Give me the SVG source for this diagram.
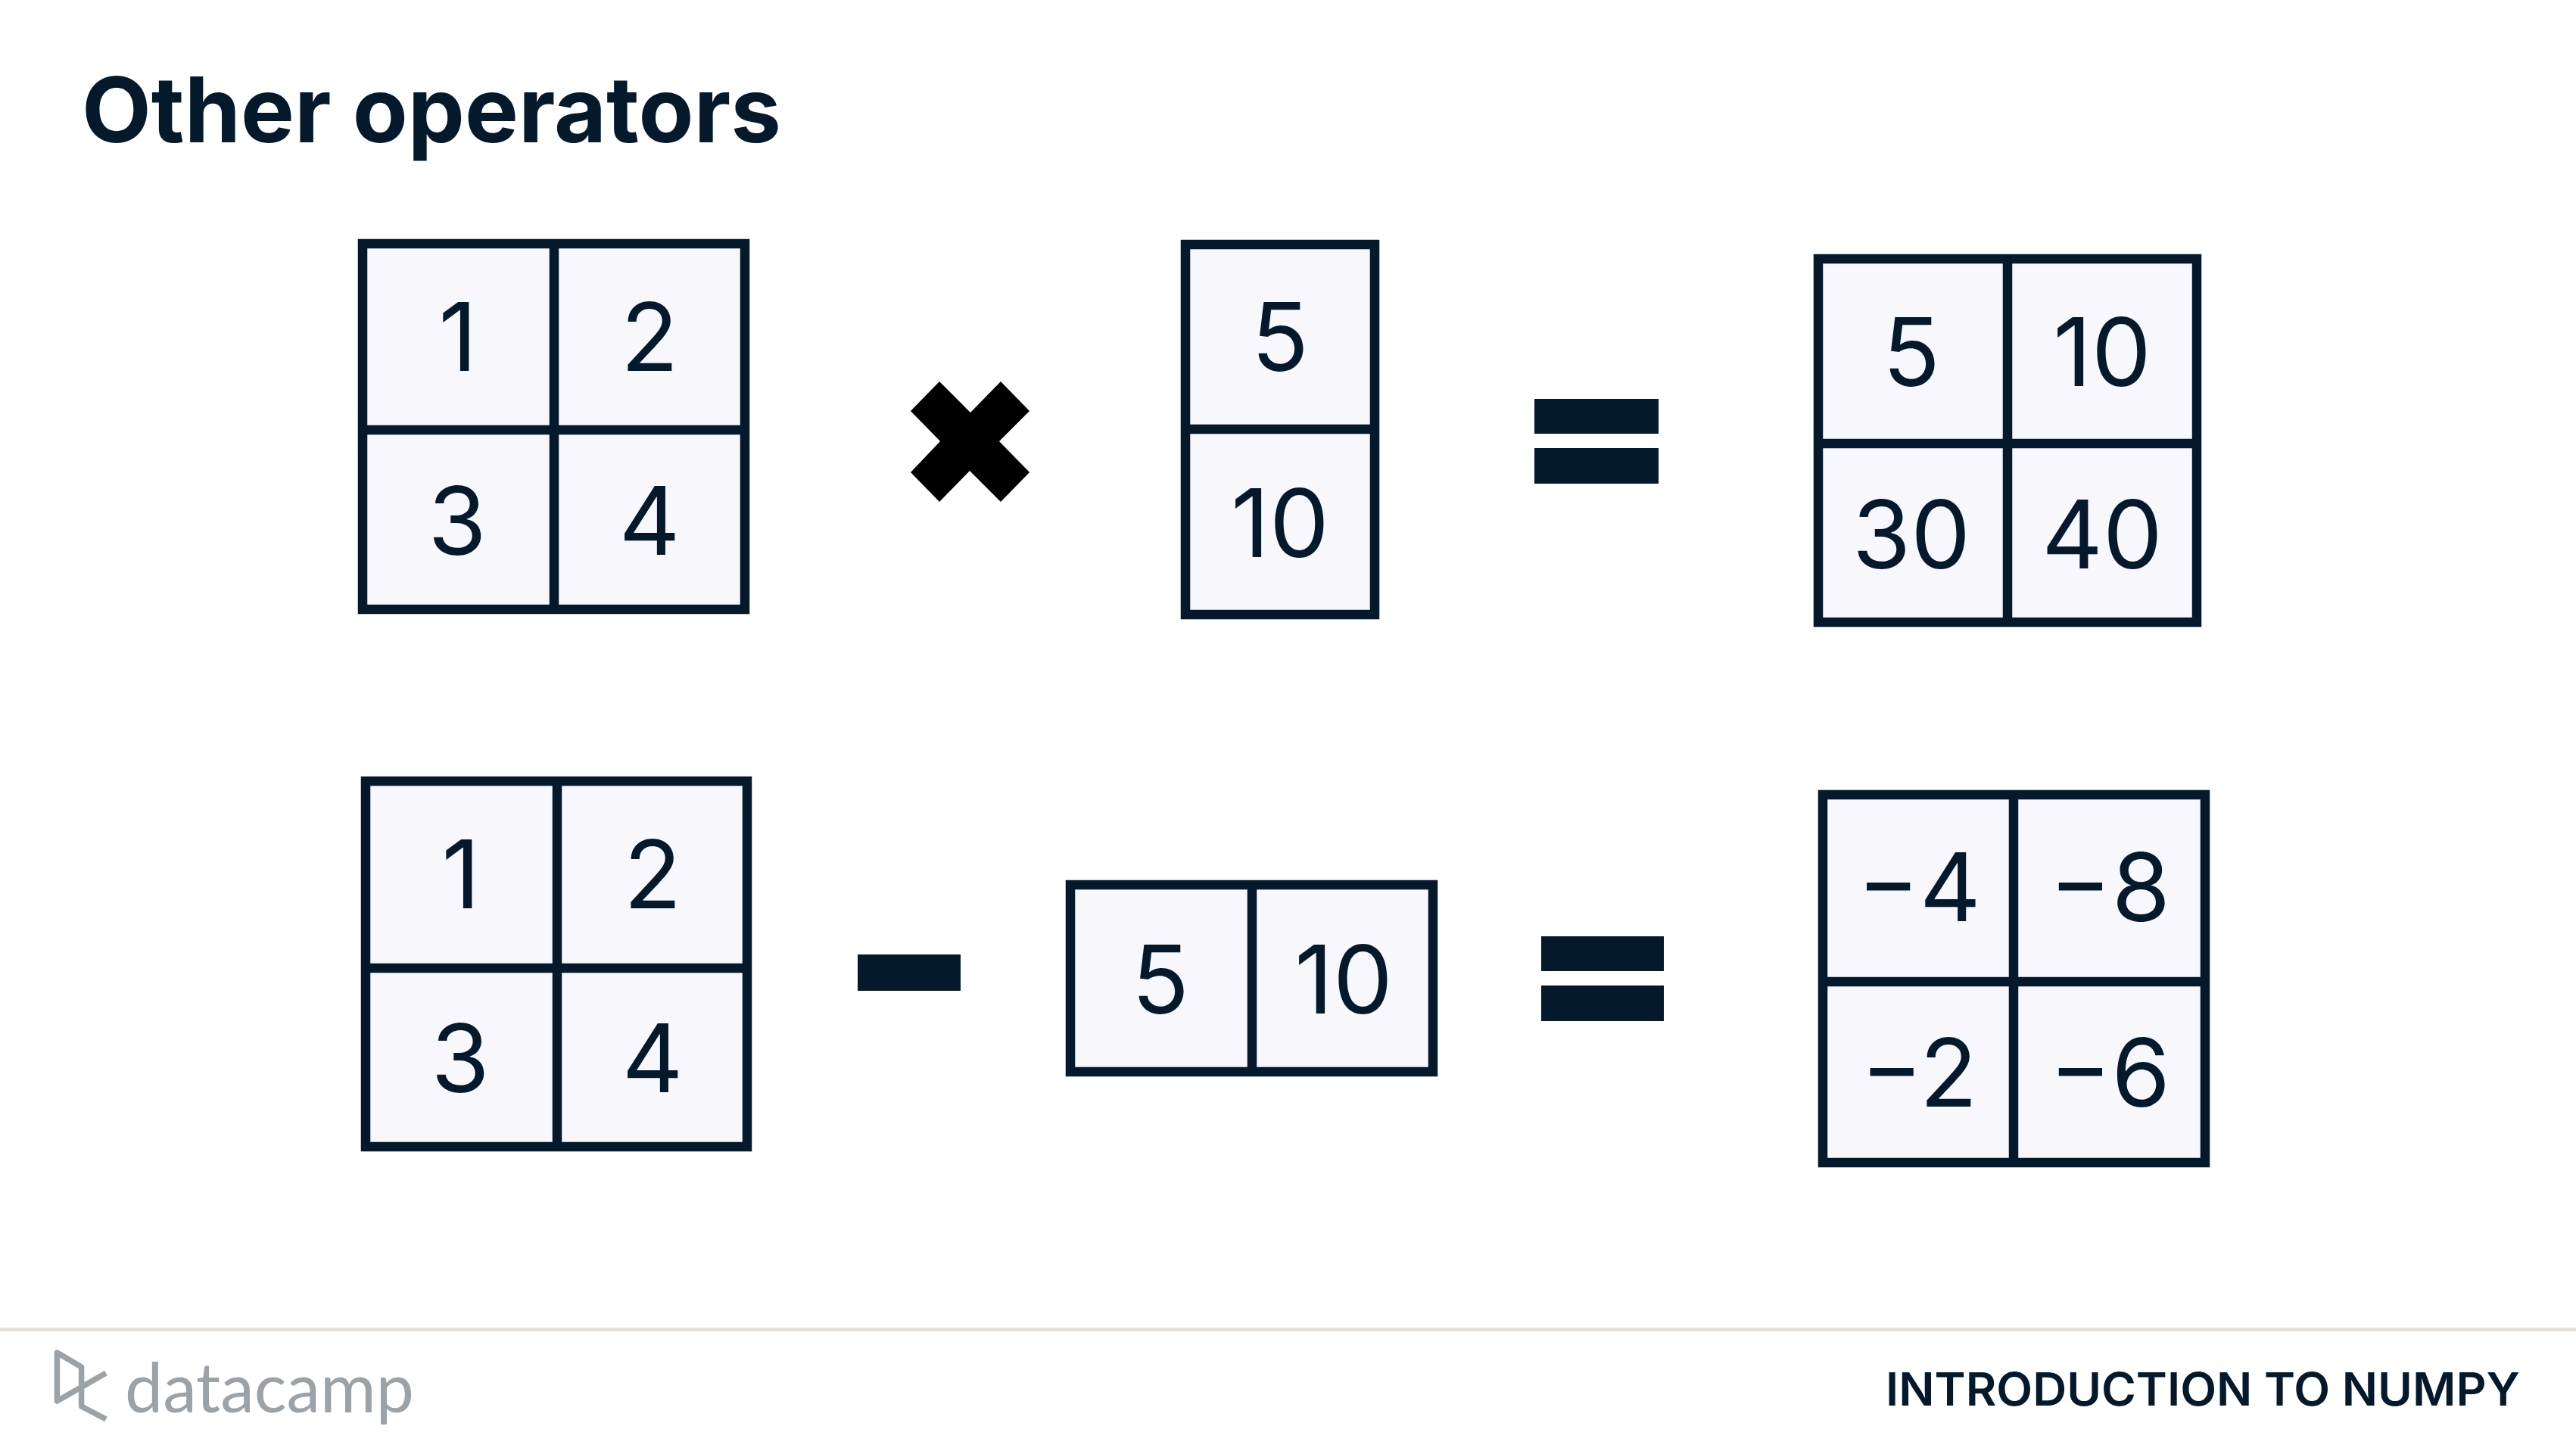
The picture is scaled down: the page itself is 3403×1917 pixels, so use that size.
<svg xmlns="http://www.w3.org/2000/svg" width="3403" height="1917" viewBox="0 0 3403 1917">
<style>
.g{fill:#f7f7fc;stroke:none}
.l{fill:none;stroke:#05192d;stroke-width:12.5}
.d{font-family:Inter,"Liberation Sans",sans-serif;font-size:125px;fill:#05192d;text-anchor:middle}
.op{fill:#05192d}
</style>
<rect width="3403" height="1917" fill="#fff"/>
<text id="title" x="108" y="188" font-family="Inter,'Liberation Sans',sans-serif" font-weight="700" font-size="120" fill="#05192d" textLength="924" lengthAdjust="spacingAndGlyphs">Other operators</text>
<g id="a1">
<rect class="g" x="479" y="322" width="505" height="483"/>
<path class="l" d="M479 322H984V805H479ZM732 322V805M479 568H984"/>
<text class="d" x="605" y="490">1</text><text class="d" x="858" y="490">2</text><text class="d" x="604" y="733">3</text><text class="d" x="858" y="733">4</text>
</g>
<g id="multiply"><polygon fill="#000" points="1241,504 1282,545 1322,504 1360,543 1320,583 1360,624 1322,663 1281,622 1241,663 1203,624 1242,583 1203,543"/></g>
<g id="b1">
<rect class="g" x="1566" y="323" width="250" height="489"/>
<path class="l" d="M1566 323H1816V812H1566ZM1560 567H1822"/>
<text class="d" x="1691" y="490">5</text><text class="d" x="1691" y="736">10</text>
</g>
<g id="eq1"><rect class="op" x="2027" y="527" width="164" height="46"/><rect class="op" x="2027" y="592" width="164" height="47"/></g>
<g id="r1">
<rect class="g" x="2402" y="342" width="500" height="483"/>
<path class="l" d="M2402 342H2902V822H2402ZM2652 342V826M2402 586H2902"/>
<text class="d" x="2525" y="510">5</text><text class="d" x="2777" y="510">10</text><text class="d" x="2525" y="751">30</text><text class="d" x="2777" y="751">40</text>
</g>
<g id="a2">
<rect class="g" x="483" y="1032" width="505" height="483"/>
<path class="l" d="M483 1032H987V1515H483ZM736 1032V1515M483 1279H987"/>
<text class="d" x="609" y="1200">1</text><text class="d" x="862" y="1200">2</text><text class="d" x="608" y="1443">3</text><text class="d" x="862" y="1443">4</text>
</g>
<g id="minus"><rect class="op" x="1133" y="1261" width="136" height="48"/></g>
<g id="b2">
<rect class="g" x="1414" y="1169" width="479" height="248"/>
<path class="l" d="M1414 1169H1893V1416H1414ZM1654 1169V1416"/>
<text class="d" x="1533" y="1339">5</text><text class="d" x="1775" y="1339">10</text>
</g>
<g id="eq2"><rect class="op" x="2036" y="1237" width="162" height="46"/><rect class="op" x="2036" y="1302" width="162" height="47"/></g>
<g id="r2">
<rect class="g" x="2408" y="1050" width="505" height="486"/>
<path class="l" d="M2408 1050H2913V1536H2408ZM2660 1050V1536M2408 1297H2913"/>
<text class="d" x="2535" y="1217">−4</text><text class="d" x="2787" y="1217">−8</text><text class="d" x="2535" y="1462">−2</text><text class="d" x="2787" y="1462">−6</text>
</g>
<g id="footer">
<rect x="0" y="1754" width="3403" height="5" fill="#e5e1da"/>
<path d="M140 1814L75.4 1851V1787L107.6 1806V1858L140 1875" fill="none" stroke="#9ba3a9" stroke-width="7.5" stroke-linejoin="round"/>
<text x="165" y="1866" font-family="Lato,'Liberation Sans',sans-serif" font-size="92" fill="#9ba3a9" textLength="382" lengthAdjust="spacingAndGlyphs">datacamp</text>
<text x="3329" y="1857" text-anchor="end" font-family="Inter,'Liberation Sans',sans-serif" font-weight="600" font-size="60" fill="#05192d" textLength="838" lengthAdjust="spacingAndGlyphs">INTRODUCTION TO NUMPY</text>
</g>
</svg>
